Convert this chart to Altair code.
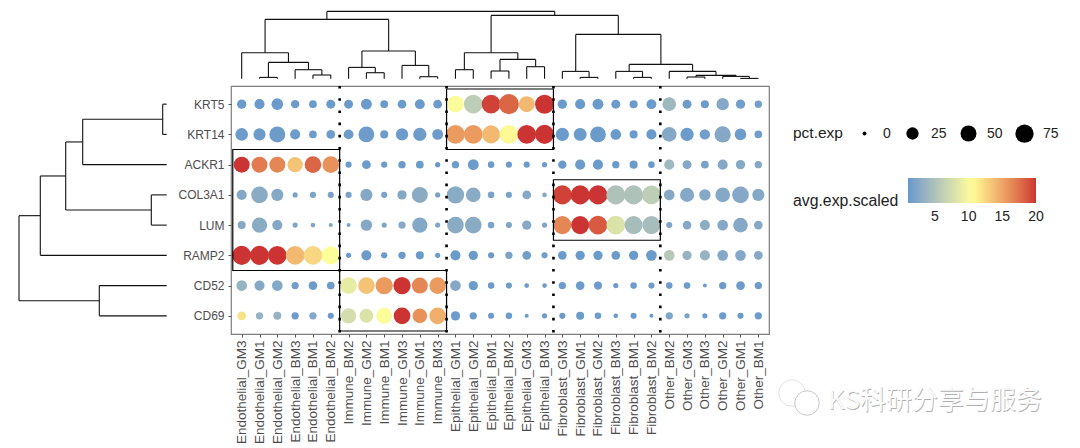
import altair as alt
import pandas as pd

genes = ["KRT5", "KRT14", "ACKR1", "COL3A1", "LUM", "RAMP2", "CD52", "CD69"]
samples = [
    "Endothelial_GM3", "Endothelial_GM1", "Endothelial_GM2", "Endothelial_BM3", "Endothelial_BM1", "Endothelial_BM2",
    "Immune_BM2", "Immune_GM2", "Immune_BM1", "Immune_GM3", "Immune_GM1", "Immune_BM3",
    "Epithelial_GM1", "Epithelial_GM2", "Epithelial_BM1", "Epithelial_BM2", "Epithelial_GM3", "Epithelial_BM3",
    "Fibroblast_GM3", "Fibroblast_GM1", "Fibroblast_GM2", "Fibroblast_BM3", "Fibroblast_BM1", "Fibroblast_BM2",
    "Other_BM2", "Other_GM3", "Other_BM3", "Other_GM2", "Other_GM1", "Other_BM1",
]

pct_krt5 = [13,16,22,10,8,12, 12,19,8,11,15,11, 57,79,79,95,50,83, 13,16,19,12,9,15, 33,12,9,25,13,7]
pct_krt14 = [27,24,50,16,8,11, 15,48,9,25,31,19, 79,79,72,79,79,83, 31,29,48,18,9,16, 40,31,17,53,22,8]
pct_ackr1 = [50,50,50,45,57,57, 4,11,4,7,8,2, 7,19,5,4,4,2, 10,16,16,7,9,5, 16,12,8,16,13,7]
pct_col3a1 = [16,57,24,2,4,4, 4,24,4,13,50,2, 64,40,5,4,11,1, 83,83,83,83,83,79, 18,36,21,40,57,24]
pct_lum = [9,45,16,2,1,0, 0,21,2,7,45,2, 57,57,5,4,13,2, 72,72,79,79,72,72, 4,11,16,18,40,11]
pct_ramp2 = [83,83,79,79,79,72, 2,16,4,7,9,2, 16,13,4,7,11,4, 11,13,13,11,13,18, 18,13,16,18,18,11]
pct_cd52 = [18,16,18,7,11,8, 57,57,64,64,50,57, 18,13,5,4,1,1, 7,11,9,2,5,4, 5,5,0,7,11,7]
pct_cd69 = [11,7,9,7,7,4, 45,36,50,57,40,57, 13,7,4,5,0,2, 4,9,5,1,4,0, 7,2,2,7,4,7]

avg_krt5 = [1.2,1.2,1.2,1.2,1.2,1.2, 1.2,1.2,1.2,1.2,1.2,1.2, 10.2,6,19.5,18,14,20, 1.2,1.2,1.2,1.2,1.2,1.2, 4,1.3,1.3,2.5,1.5,1.5]
avg_krt14 = [1.3,1.3,1.3,1.3,1.3,1.3, 1.3,1.3,1.3,1.3,1.3,1.3, 15.5,15.5,14,10.8,20,20, 1.2,1.2,1.2,1.2,1.2,1.2, 2.5,1.2,1.5,2.5,1.3,1.5]
avg_ackr1 = [20,17,16.5,13.5,18,16, 1.2,1.2,1.2,1.2,1.2,1.2, 1.3,1.3,1.3,1.3,1.3,1.3, 1.2,1.2,1.2,1.2,1.2,1.2, 4,2.5,2,2.5,2.5,2.5]
avg_col3a1 = [2.5,2.8,2.5,2,2,2, 2,2.5,2,2.5,2.8,2, 2.8,2.8,2,2,2.5,2.5, 19.5,20,20,5,5,6, 2.5,2.5,2.5,2.5,2.5,2.5]
avg_lum = [2.5,2.8,2.5,2.2,2.2,2.2, 2.2,2.5,2.2,2.5,2.5,2.2, 2.8,2.8,2,2.2,2.5,2.2, 16.5,20,18.5,8,4.5,4.5, 2.2,2.5,3,2.5,2.5,2.5]
avg_ramp2 = [20,20,20,14,12.5,10.5, 1.2,1.2,1.2,1.2,1.2,1.2, 1.2,1.2,1.2,2,1.5,1.5, 1.2,1.2,1.2,1.2,1.2,1.2, 5.5,3.5,3.5,2.5,2.5,2.5]
avg_cd52 = [3.5,2.5,2.5,1.5,1.3,1.3, 8.8,13.5,15.5,20,16.5,15.5, 2.5,1.3,1.3,1.3,1.3,1.3, 1.3,1.3,1.3,1.3,1.3,1.3, 1.3,1.3,1.3,1.3,1.3,1.3]
avg_cd69 = [12,3.5,3.5,1.3,2.5,1.3, 7.5,8,10.3,20,16,14.5, 1.3,1.3,1.3,1.3,1.3,1.3, 1.3,1.3,1.3,1.3,1.3,1.3, 2.2,2,1.3,1.3,1.3,1.3]

pct_rows = [pct_krt5, pct_krt14, pct_ackr1, pct_col3a1, pct_lum, pct_ramp2, pct_cd52, pct_cd69]
avg_rows = [avg_krt5, avg_krt14, avg_ackr1, avg_col3a1, avg_lum, avg_ramp2, avg_cd52, avg_cd69]

# merge heights of the two dendrograms: (height, left child, right child), int = leaf
col_tree = (67.3,
    (59.3,
        (26, 0, (16.3, (1.3, 1, 2), (9, 3, (3.7, 4, 5)))),
        (27.7, (11.3, 6, (6, 7, 8)), (13.3, 9, (2, 10, 11)))),
    (63.3,
        (26, (9, 12, 13), (19.3, (7.7, 14, 15), (12, 16, 17))),
        (44.3,
            (7.3, 18, (1.3, 19, 20)),
            (14.3,
                (7.3, 21, (1.3, 22, 23)),
                (7.3, 24, (3.3, (1.7, 25, 26), (2.3, 27, (0.3, 28, 29))))))))
row_tree = (147.7,
    (126.4,
        (101, (84, (4, 0, 1), 2), (15.4, 3, 4)),
        5),
    (67.4, 6, 7))

box_x0 = [-0.5, 5.5, 11.5, 17.5]
box_x1 = [5.5, 11.5, 17.5, 23.5]
box_y0 = [1.5, 5.5, -0.5, 2.5]
box_y1 = [5.5, 7.5, 1.5, 4.5]
divider_x = [5.5, 11.5, 17.5, 23.5]
color_ticks = [5, 10, 15, 20]

W, H = 538, 248
XMIN, XMAX, YMIN, YMAX = -0.6, 29.6, -0.6, 7.6
XUNIT = W / (XMAX - XMIN)
YUNIT = H / (YMAX - YMIN)
TOP_GAP = 7.3   # gap panel -> column dendrogram base
LEFT_GAP = 64.3 # gap panel -> row dendrogram base
BAR_X, BAR_Y, BAR_LEN, BAR_THICK = 677, 92, 128, 25


def walk(node, segs):
    """Return (leaf position, height) of a node; append U-shaped segments."""
    if isinstance(node, int):
        return node, 0
    h, a, b = node
    pa, ha = walk(a, segs)
    pb, hb = walk(b, segs)
    segs.append((pa, pb, h, h))
    segs.append((pa, pa, ha, h))
    segs.append((pb, pb, hb, h))
    return (pa + pb) / 2, h


col_segs, row_segs = [], []
walk(col_tree, col_segs)
walk(row_tree, row_segs)

col_df = pd.DataFrame({
    "x": [s[0] for s in col_segs], "x2": [s[1] for s in col_segs],
    "y": [YMIN - (TOP_GAP + s[2]) / YUNIT for s in col_segs],
    "y2": [YMIN - (TOP_GAP + s[3]) / YUNIT for s in col_segs],
})
row_df = pd.DataFrame({
    "y": [s[0] for s in row_segs], "y2": [s[1] for s in row_segs],
    "x": [XMIN - (LEFT_GAP + s[2]) / XUNIT for s in row_segs],
    "x2": [XMIN - (LEFT_GAP + s[3]) / XUNIT for s in row_segs],
})

dots = pd.DataFrame([
    {"x": j, "y": i, "pct": pct_rows[i][j], "avg": avg_rows[i][j]}
    for i in range(len(genes)) for j in range(len(samples))
])
boxes = pd.DataFrame({"x": box_x0, "x2": box_x1, "y": box_y0, "y2": box_y1})
dividers = pd.DataFrame({"x": divider_x, "y": [YMIN] * 4, "y2": [YMAX] * 4})

FONT = "Liberation Sans"
xs = alt.Scale(domain=[XMIN, XMAX], nice=False, zero=False)
ys = alt.Scale(domain=[YMIN, YMAX], nice=False, zero=False, reverse=True)
x_expr = "[" + ",".join(f"'{s}'" for s in samples) + "][datum.value]"
y_expr = "[" + ",".join(f"'{g}'" for g in genes) + "][datum.value]"

x_axis = alt.Axis(values=list(range(30)), labelExpr=x_expr, title=None, grid=False, domain=False,
                  labelAngle=270, labelAlign="right", labelBaseline="middle", labelFont=FONT,
                  labelFontSize=13.5, labelColor="#4d4d4d", tickColor="#555555", tickSize=3,
                  labelPadding=3, labelOverlap=False, labelFlush=False)
y_axis = alt.Axis(values=list(range(8)), labelExpr=y_expr, title=None, grid=False, domain=False,
                  labelFont=FONT, labelFontSize=12, labelColor="#4d4d4d", tickColor="#555555",
                  tickSize=3, labelPadding=4, labelOverlap=False, labelFlush=False)

common = dict(x=alt.X("x:Q", scale=xs, axis=x_axis), y=alt.Y("y:Q", scale=ys, axis=y_axis))

points = alt.Chart(dots).mark_circle(opacity=1).encode(
    size=alt.Size("pct:Q",
        scale=alt.Scale(domain=[0, 25, 50, 75, 100], range=[16, 151, 256, 335, 420]),
        legend=alt.Legend(title="pct.exp", orient="none", legendX=562, legendY=38, direction="horizontal",
                          columns=4, values=[0, 25, 50, 75], titleOrient="left", titleFont=FONT,
                          titleFontSize=15.5, titleFontWeight="normal", titleColor="#222222",
                          titlePadding=12, titleBaseline="middle", labelFont=FONT, labelFontSize=14,
                          labelColor="#222222", labelOffset=9, columnPadding=12,
                          symbolFillColor="black", symbolOpacity=1, symbolStrokeWidth=0)),
    color=alt.Color("avg:Q",
        scale=alt.Scale(domain=[1, 10.5, 20], range=["#6699CC", "#FFFF99", "#CC3333"], interpolate="lab"),
        legend=alt.Legend(title=None, orient="none", legendX=BAR_X, legendY=BAR_Y, direction="horizontal",
                          values=color_ticks, gradientLength=BAR_LEN, gradientThickness=BAR_THICK,
                          labelExpr="''", gradientStrokeWidth=0, tickCount=4)),
    **common,
)

box_layer = alt.Chart(boxes).mark_rect(fillOpacity=0, stroke="black", strokeWidth=1.2).encode(
    x2="x2:Q", y2="y2:Q", **common)
divider_layer = alt.Chart(dividers).mark_rule(color="black", strokeWidth=2.6, strokeDash=[2.6, 9.6]).encode(
    y2="y2:Q", **common)
col_layer = alt.Chart(col_df).mark_rule(color="#111111", strokeWidth=1.1).encode(x2="x2:Q", y2="y2:Q", **common)
row_layer = alt.Chart(row_df).mark_rule(color="#111111", strokeWidth=1.1).encode(x2="x2:Q", y2="y2:Q", **common)

# colour-bar title, tick labels and white ticks placed along the bar
bar_title = alt.Chart(pd.DataFrame({"t": ["avg.exp.scaled"]})).mark_text(
    font=FONT, fontSize=15.8, align="left", baseline="middle", color="#222222").encode(
    x=alt.value(562), y=alt.value(115), text="t:N")
bar_layers = []
for v in color_ticks:
    px = BAR_X + (v - 1) / 19 * BAR_LEN
    row = pd.DataFrame({"v": [str(v)]})
    bar_layers.append(alt.Chart(row).mark_text(font=FONT, fontSize=14, align="center", baseline="middle",
                                               color="#222222").encode(
        x=alt.value(px), y=alt.value(BAR_Y + BAR_THICK + 14), text="v:N"))
    for y0, y1 in [(BAR_Y, BAR_Y + 5), (BAR_Y + BAR_THICK - 5, BAR_Y + BAR_THICK)]:
        bar_layers.append(alt.Chart(row).mark_rule(color="white", strokeWidth=0.8, opacity=0.8).encode(
            x=alt.value(px), y=alt.value(y0), y2=alt.value(y1)))

wm = pd.DataFrame({"t": ["KS科研分享与服务"]})
wm_shadow = alt.Chart(wm).mark_text(font="Noto Sans CJK SC", fontSize=26, align="left", baseline="middle",
                                    color="#b0b0b0").encode(
    x=alt.value(597.6), y=alt.value(315.6), text="t:N")
wm_top = alt.Chart(wm).mark_text(font="Noto Sans CJK SC", fontSize=26, align="left", baseline="middle",
                                 color="#fbfbfb").encode(
    x=alt.value(597), y=alt.value(315), text="t:N")
bubble_df = pd.DataFrame({"n": [1, 2]})
bubble1 = alt.Chart(bubble_df.head(1)).mark_point(size=700, color="#d8d8d8", strokeWidth=1, filled=False).encode(
    x=alt.value(561), y=alt.value(307))
bubble2 = alt.Chart(bubble_df.tail(1)).mark_point(size=600, color="#c8c8c8", fill="white", fillOpacity=1,
                                                  strokeWidth=1, filled=False).encode(
    x=alt.value(576), y=alt.value(317))

chart = alt.layer(points, box_layer, divider_layer, col_layer, row_layer, bar_title, *bar_layers,
                  bubble1, bubble2, wm_shadow, wm_top).properties(
    width=W, height=H,
    autosize=alt.AutoSizeParams(type="none"),
    padding={"left": 223, "top": 78, "right": 303, "bottom": 111},
).configure_view(stroke="#7f7f7f", strokeWidth=1.2)

chart.save("out.html", embed_options={"renderer": "svg", "actions": False})
